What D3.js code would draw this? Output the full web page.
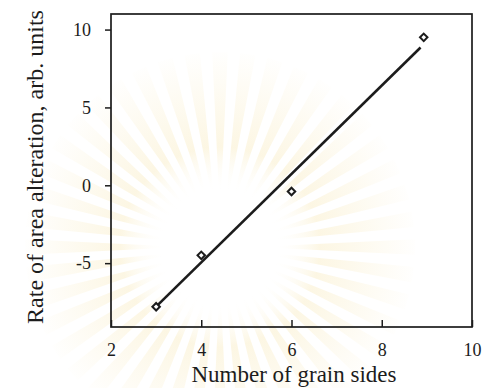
<!DOCTYPE html>
<html>
<head>
<meta charset="utf-8">
<script src="https://cdn.jsdelivr.net/npm/d3@7"></script>
<style>
  body { margin: 0; background: #fff; }
  svg text { font-family: "Liberation Serif", Tinos, "Times New Roman", "DejaVu Serif", serif; }
</style>
</head>
<body>
<svg id="main-svg" width="485" height="388"></svg>
<script>
// values
const sides = [3, 4, 6, 8.93];
const rates = [-7.8, -4.5, -0.4, 9.5];
const fitX = [2.96, 8.86];
const fitY = [-7.9, 8.85];
const xTicks = [2, 4, 6, 8, 10];
const yTicks = [-5, 0, 5, 10];

const ink = "#1c1c1c";
const serif = "'Liberation Serif', Tinos, 'Times New Roman', 'DejaVu Serif', serif";
const svg = d3.select("#main-svg");

const x = d3.scaleLinear().domain([2, 10]).range([111, 472]);
const y = d3.scaleLinear().domain([-9.1, 11]).range([327, 14]);

// faint watermark behind the plot
const wm = svg.append("g").attr("transform", "translate(220,247)");
const grad = svg.append("defs").append("radialGradient")
  .attr("id", "rays").attr("gradientUnits", "userSpaceOnUse")
  .attr("cx", 0).attr("cy", 0).attr("r", 200);
grad.append("stop").attr("offset", 0.27).attr("stop-color", "#fff").attr("stop-opacity", 0);
grad.append("stop").attr("offset", 0.5).attr("stop-color", "#f7e6b0").attr("stop-opacity", 0.35);
grad.append("stop").attr("offset", 1).attr("stop-color", "#f7e6b0").attr("stop-opacity", 0);
d3.range(44).forEach(i => {
  const a = i / 44 * 2 * Math.PI, w = 0.04;
  const r0 = 55, r1 = 195;
  const p = [[r0 * Math.cos(a - w / 2), r0 * Math.sin(a - w / 2)],
             [r1 * Math.cos(a - w), r1 * Math.sin(a - w)],
             [r1 * Math.cos(a + w), r1 * Math.sin(a + w)],
             [r0 * Math.cos(a + w / 2), r0 * Math.sin(a + w / 2)]];
  wm.append("path").attr("d", "M" + p.join("L") + "Z").attr("fill", "url(#rays)");
});

// frame
svg.append("rect")
  .attr("x", x(2)).attr("y", y(11))
  .attr("width", x(10) - x(2)).attr("height", y(-9.1) - y(11))
  .attr("fill", "none").attr("stroke", ink).attr("stroke-width", 1.7);

const xAxis = svg.append("g")
  .attr("transform", `translate(0,${y(-9.1)})`)
  .call(d3.axisBottom(x).tickValues(xTicks).tickFormat(d => String(d))
    .tickSize(-7).tickPadding(16).tickSizeOuter(0));
const yAxis = svg.append("g")
  .attr("transform", `translate(${x(2)},0)`)
  .call(d3.axisLeft(y).tickValues(yTicks).tickFormat(d => String(d))
    .tickSize(6).tickPadding(14).tickSizeOuter(0));

[xAxis, yAxis].forEach(g => {
  g.attr("font-family", serif).attr("font-size", 18);
  g.select(".domain").remove();
  g.selectAll(".tick line").attr("stroke", ink).attr("stroke-width", 1.5);
  g.selectAll(".tick text").attr("fill", ink);
});

// fitted line
svg.append("path")
  .datum(d3.zip(fitX, fitY))
  .attr("d", d3.line().x(d => x(d[0])).y(d => y(d[1])))
  .attr("fill", "none").attr("stroke", ink).attr("stroke-width", 2.6);

// data points
svg.selectAll(".pt")
  .data(d3.zip(sides, rates))
  .join("path")
  .attr("class", "pt")
  .attr("d", d3.symbol(d3.symbolSquare, 28))
  .attr("transform", d => `translate(${x(d[0])},${y(d[1])}) rotate(45)`)
  .attr("fill", "#fff").attr("stroke", ink).attr("stroke-width", 2);

// axis titles
svg.append("text")
  .attr("x", 294).attr("y", 382)
  .attr("text-anchor", "middle").attr("fill", ink)
  .attr("font-family", serif).attr("font-size", 23)
  .text("Number of grain sides");

svg.append("text")
  .attr("transform", "translate(43,167) rotate(-90)")
  .attr("text-anchor", "middle").attr("fill", ink)
  .attr("font-family", serif).attr("font-size", 24)
  .text("Rate of area alteration, arb. units");
</script>
</body>
</html>
